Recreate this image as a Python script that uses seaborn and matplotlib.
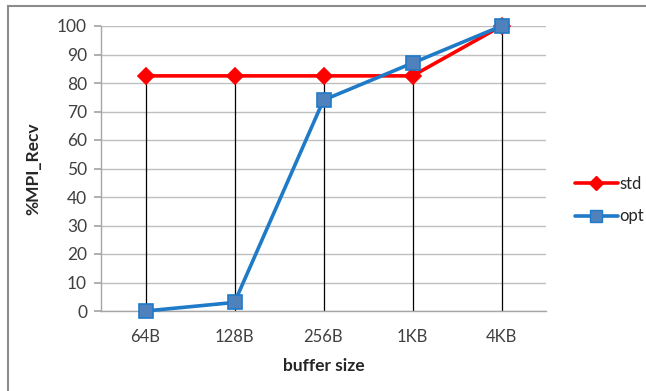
import matplotlib
matplotlib.use("Agg")
import matplotlib.pyplot as plt
import seaborn as sns
import pandas as pd
import numpy as np
from matplotlib.patches import Rectangle
from matplotlib.lines import Line2D

buffer_sizes = ["64B", "128B", "256B", "1KB", "4KB"]
std_values = [82.5, 82.5, 82.5, 82.5, 100]
opt_values = [0, 3, 74, 87, 100]

sns.set_theme(style="white")
plt.rcParams["font.family"] = ["Lato", "DejaVu Sans"]

df = pd.DataFrame({
    "buffer size": buffer_sizes * 2,
    "%MPI_Recv": std_values + opt_values,
    "series": ["std"] * len(buffer_sizes) + ["opt"] * len(buffer_sizes),
})

fig = plt.figure(figsize=(6.46, 3.91), dpi=100)
ax = fig.add_axes([101 / 646, 80 / 391, 445 / 646, 285 / 391])

# outer chart frame
fig.patches.append(Rectangle((7.5 / 646, -0.1), 1.2, (391 - 6) / 391 + 0.1,
                             transform=fig.transFigure, fill=False,
                             edgecolor="#8c8c8c", linewidth=1.5, zorder=0))

# drop lines from the highest value at each buffer size
x = np.arange(len(buffer_sizes))
tops = np.maximum(std_values, opt_values)
ax.vlines(x, 0, tops, color="black", linewidth=0.9, zorder=2)

sns.lineplot(data=df, x="buffer size", y="%MPI_Recv", hue="series",
             style="series", palette={"std": "#ff0000", "opt": "#1f7ac8"},
             markers={"std": "D", "opt": "s"}, dashes=False,
             linewidth=2.6, ax=ax, legend=False, zorder=3,
             markersize=9, markeredgewidth=1.2)

for ln in ax.get_lines():
    ln.set_clip_on(False)
    if ln.get_marker() == "D":
        ln.set_markerfacecolor("#ff0000")
        ln.set_markeredgecolor("#ff0000")
        ln.set_markersize(8)
    elif ln.get_marker() == "s":
        ln.set_markerfacecolor("#4f81bd")
        ln.set_markeredgecolor("#1f7ac8")
        ln.set_markersize(10)

ax.set_xlim(-0.5, len(buffer_sizes) - 0.5)
ax.set_ylim(0, 100)
ax.set_yticks(range(0, 101, 10))
ax.grid(axis="y", color="#bfbfbf", linewidth=1)
ax.set_axisbelow(True)
for side in ["top", "right"]:
    ax.spines[side].set_visible(False)
for side in ["left", "bottom"]:
    ax.spines[side].set_color("#a6a6a6")
    ax.spines[side].set_linewidth(1)
ax.tick_params(axis="y", length=5, color="#a6a6a6", labelsize=12.5,
               labelcolor="#404040", pad=5, left=True)
ax.tick_params(axis="x", length=0, labelsize=12, labelcolor="#404040", pad=13)
ax.set_xlabel("buffer size", fontsize=12.5, fontweight="bold", labelpad=9)
ax.set_ylabel("%MPI_Recv", fontsize=12.5, fontweight="bold", labelpad=11)

handles = [
    Line2D([], [], color="#ff0000", linewidth=2.6, marker="D", markersize=7,
           markerfacecolor="#ff0000", markeredgecolor="#ff0000"),
    Line2D([], [], color="#1f7ac8", linewidth=2.6, marker="s", markersize=9,
           markerfacecolor="#4f81bd", markeredgecolor="#1f7ac8"),
]
fig.legend(handles, ["std", "opt"], loc="center left",
           bbox_to_anchor=(568 / 646, 1 - 200 / 391), frameon=False,
           fontsize=12, handlelength=2.6, handletextpad=0.1,
           labelspacing=1.0, borderaxespad=0)

fig.savefig("out.png", dpi=100)
